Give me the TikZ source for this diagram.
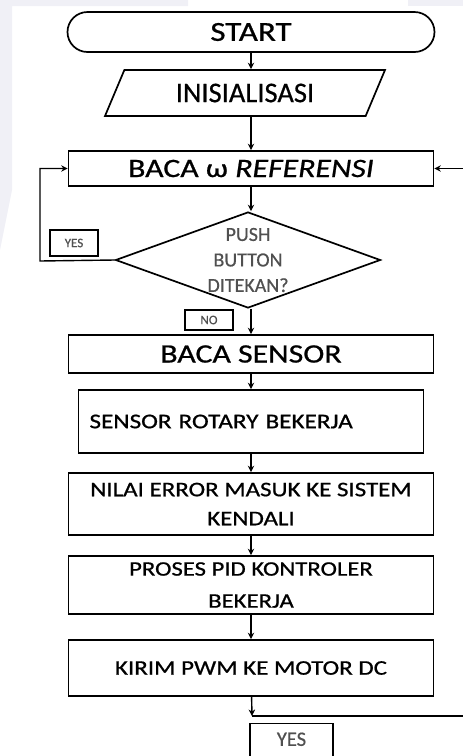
\documentclass[tikz,border=0pt]{standalone}
\usepackage{fontspec}
\setmainfont[FakeStretch=1.2, FakeBold=0.8]{Carlito}
\newfontfamily\narrowfont[FakeBold=0.6]{Carlito}
\usetikzlibrary{shapes.geometric,arrows.meta}
\definecolor{pagegray}{HTML}{F0F0F6}
\definecolor{labelgray}{HTML}{505050}

\begin{document}
\begin{tikzpicture}[
    x=1pt, y=-1pt,
    termbox/.style={rectangle, draw, line width=1.7pt, rounded corners=20pt, minimum width=367, minimum height=40, inner sep=0pt},
    iobox/.style={trapezium, draw, line width=1.7pt, trapezium left angle=44, trapezium right angle=136, trapezium stretches body, minimum width=280, minimum height=46, inner sep=0pt},
    procbox/.style={rectangle, draw, line width=1.7pt, minimum width=365, inner sep=0pt, align=center},
    decbox/.style={diamond, draw, line width=1.7pt, minimum width=265, minimum height=96, inner sep=0pt},
    tagbox/.style={rectangle, draw, line width=1.4pt, inner sep=0pt, text=labelgray},
    arrow/.style={-{Stealth[length=6.5pt,width=6.5pt]}, line width=1.4pt}
]

% page and margins
\useasboundingbox (0,0) rectangle (463,756);
\clip (0,0) rectangle (463,756);
\fill[pagegray] (0,0) -- (188,0) -- (188,6) -- (12,6) -- (12,190) -- (0,250) -- cycle;
\fill[pagegray] (408,0) rectangle (463,6);

% Flow steps (top to bottom)
\node[termbox, font=\fontsize{27.5}{30}\selectfont] (start) at (251,32) {START};
\node[iobox, font=\narrowfont\fontsize{28.5}{30}\selectfont] (init) at (245,93) {INISIALISASI};
\node[procbox, minimum height=35, font=\fontsize{26.5}{30}\selectfont] (baca) at (251,168.5) {BACA ω \textit{REFERENSI}};
\node[decbox, label={[align=center, inner sep=0pt, text=labelgray, font=\narrowfont\fontsize{20}{25.5}\selectfont]center:PUSH\\BUTTON\\DITEKAN?}] (push) at (248,260) {};
\node[procbox, minimum height=38, font=\fontsize{26.5}{30}\selectfont] (sensor) at (251,354) {BACA SENSOR};
\node[procbox, minimum width=345, minimum height=63, text width=323, align=left, font=\fontsize{21}{25}\selectfont] (rotary) at (251,421.5) {SENSOR ROTARY BEKERJA};
\node[procbox, minimum height=62, font=\fontsize{20.8}{29}\selectfont] (error) at (251,504) {NILAI ERROR MASUK KE SISTEM\\KENDALI};
\node[procbox, minimum height=58, font=\fontsize{20.6}{32}\selectfont] (pid) at (251,585) {PROSES PID KONTROLER\\BEKERJA};
\node[procbox, minimum height=56, font=\fontsize{20.8}{25}\selectfont] (pwm) at (251,668) {KIRIM PWM KE MOTOR DC};

% Branch labels
\node[tagbox, minimum width=48, minimum height=26, font=\narrowfont\fontsize{13}{14}\selectfont] (yes) at (74,243) {YES};
\node[tagbox, minimum width=48, minimum height=20, font=\narrowfont\fontsize{13}{14}\selectfont] (no) at (209,320) {NO};
\node[tagbox, minimum width=83, minimum height=40, anchor=north, font=\narrowfont\fontsize{20.5}{22}\selectfont] (yesend) at (291.5,723) {\raisebox{9pt}{YES}};

% Turning points
\coordinate (loopL) at (40,261);
\coordinate (join) at (252,716);
\coordinate (loopR) at (480,716);
\coordinate (loopRtop) at (480,168.5);

% Arrows
\draw[arrow] (start) -- (start |- init.north);
\draw[arrow] (init.south -| baca) -- (baca);
\draw[arrow] (baca) -- (baca |- push.north);
\draw[arrow] (push.south -| sensor) -- (sensor);
\draw[arrow] (sensor) -- (rotary);
\draw[arrow] (rotary) -- (error);
\draw[arrow] (error) -- (pid);
\draw[arrow] (pid) -- (pwm);
\draw[arrow] (pwm) -- (join);
\draw[arrow] (join) -- (loopR) -- (loopRtop) -- (baca);
\draw[arrow] (push.west) -- (loopL) |- (baca);

\end{tikzpicture}
\end{document}
